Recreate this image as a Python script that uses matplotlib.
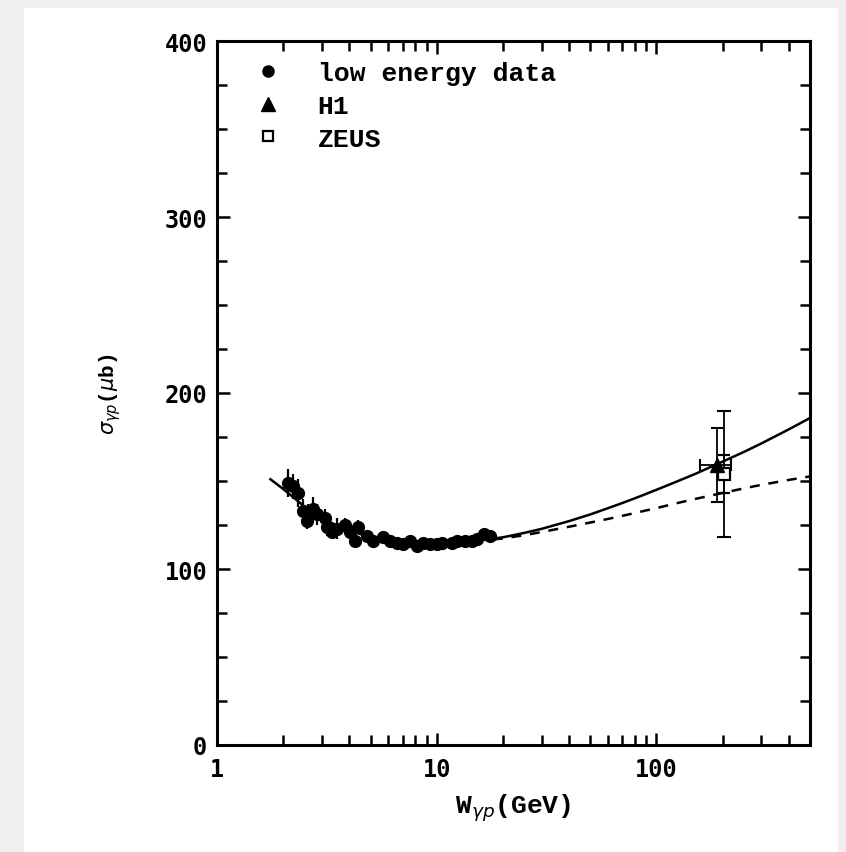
import matplotlib.pyplot as plt
from matplotlib.patches import Rectangle
from matplotlib.lines import Line2D
from matplotlib.ticker import FixedLocator, MultipleLocator, NullFormatter

# low energy photoproduction data
low_w = [2.10, 2.21, 2.33, 2.46, 2.56, 2.59, 2.73, 2.85, 3.09, 3.16, 3.33, 3.51,
         3.82, 4.02, 4.24, 4.37, 4.80, 5.11, 5.68, 6.11, 6.58, 7.02, 7.54, 8.10,
         8.65, 9.29, 9.98, 10.6, 11.7, 12.4, 13.4, 14.4, 15.3, 16.5, 17.4]
low_sigma = [149, 147, 143, 133, 127, 131, 134, 131, 129, 124, 121, 123,
             125, 121, 116, 124, 119, 116, 118, 116, 115, 114, 116, 113,
             115, 114, 114, 115, 115, 116, 116, 116, 117, 120, 119]
low_err = [8, 7, 8, 7, 4, 6, 7, 6, 5, 5, 4, 6,
           4, 4, 4, 4, 3, 3, 3, 3, 2, 2, 2, 2,
           2, 2, 2, 2, 2, 2, 2, 2, 2, 3, 2]

# HERA points
h1_w = [188]
h1_sigma = [159]
h1_err = [21]
h1_werr = [30]
zeus_w = [202]
zeus_sigma = [154]
zeus_stat = [11]
zeus_tot = [36]

# fit curves
solid_w = [1.75, 2, 2.5, 3, 3.5, 4, 5, 6, 7, 8, 10, 12, 15, 20, 25, 30, 40, 50,
           60, 70, 85, 100, 120, 150, 200, 250, 300, 400, 500]
solid_sigma = [151, 145.5, 135.5, 129, 124.8, 121.8, 118, 116, 115, 114.4, 114.2,
               114.8, 116, 118, 120.5, 122.8, 127.2, 131, 134.5, 137.5, 141.5,
               145, 149, 154, 161, 166.5, 171.3, 179.3, 185.8]
dashed_w = [18, 20, 25, 30, 40, 50, 60, 70, 85, 100, 120, 150, 200, 250, 300,
            400, 500]
dashed_sigma = [116.8, 117.3, 119.2, 121, 124, 126.4, 128.4, 130.2, 132.6, 134.6,
                137, 139.8, 143.2, 145.8, 147.8, 150.6, 152.6]

mono = "DejaVu Sans Mono"
typew = "Liberation Mono"

fig = plt.figure(figsize=(8.46, 8.53), dpi=100, facecolor="#efefef")
fig.patches.append(Rectangle((24 / 846, 0), (838 - 24) / 846, 1 - 9 / 853,
                             transform=fig.transFigure, facecolor="white",
                             edgecolor="none", zorder=-1))
ax = fig.add_axes([217 / 846, 1 - 746 / 853, 593 / 846, 704 / 853])
ax.set_facecolor("white")

ax.plot(solid_w, solid_sigma, color="black", lw=1.8, zorder=3)
ax.plot(dashed_w, dashed_sigma, color="black", lw=1.8, ls=(0, (4, 3.5)), zorder=3)

ax.errorbar(low_w, low_sigma, yerr=low_err, fmt="o", color="black", ms=8.5,
            elinewidth=1.6, capsize=0, zorder=4)
ax.errorbar(zeus_w, zeus_sigma, yerr=zeus_tot, fmt="none", ecolor="black",
            elinewidth=1.3, capsize=5, capthick=1.5, zorder=4)
ax.errorbar(zeus_w, zeus_sigma, yerr=zeus_stat, fmt="s", color="black",
            mfc="white", mec="black", ms=8.5, mew=1.6, elinewidth=1.3,
            capsize=4, capthick=1.5, zorder=5)
ax.errorbar(h1_w, h1_sigma, yerr=h1_err, xerr=h1_werr, fmt="^", color="black",
            ms=10, elinewidth=1.3, capsize=4, capthick=1.5, zorder=6)

ax.set_xscale("log")
ax.set_xlim(1, 500)
ax.set_ylim(0, 400)

ax.xaxis.set_major_locator(FixedLocator([1, 10, 100]))
ax.xaxis.set_minor_locator(FixedLocator([2, 3, 4, 5, 6, 7, 8, 9,
                                         20, 30, 40, 50, 60, 70, 80, 90,
                                         200, 300, 400]))
ax.xaxis.set_minor_formatter(NullFormatter())
ax.set_xticklabels(["1", "10", "100"])
ax.yaxis.set_major_locator(MultipleLocator(100))
ax.yaxis.set_minor_locator(MultipleLocator(25))

ax.tick_params(which="both", direction="in", top=True, right=True, width=1.8)
ax.tick_params(which="major", length=9)
ax.tick_params(which="minor", length=7)
ax.tick_params(axis="y", which="major", pad=7)
ax.tick_params(axis="x", which="major", pad=9)
for lab in ax.get_xticklabels() + ax.get_yticklabels():
    lab.set_fontfamily(mono)
    lab.set_fontweight("bold")
    lab.set_fontsize(17)

for sp in ax.spines.values():
    sp.set_linewidth(2.2)

ax.set_ylabel(r"$\sigma_{\gamma p}$($\mu$b)", fontsize=15, family=typew,
              fontweight="bold")
ax.yaxis.set_label_coords(-0.159, 0.5)
ax.set_xlabel(r"W$_{\gamma p}$(GeV)", fontsize=19, family=typew,
              fontweight="bold")
ax.xaxis.set_label_coords(0.5, -0.066)

handles = [
    Line2D([], [], ls="none", marker="o", color="black", ms=8),
    Line2D([], [], ls="none", marker="^", color="black", ms=9.5),
    Line2D([], [], ls="none", marker="s", mfc="white", mec="black", ms=7, mew=1.6),
]
ax.legend(handles, ["low energy data", "H1", "ZEUS"], loc="upper left",
          bbox_to_anchor=(0.023, 1.005), frameon=False, handlelength=1.0,
          handletextpad=1.4, labelspacing=0.33,
          prop={"family": typew, "size": 19, "weight": "bold"})

fig.savefig("out.png", dpi=100)
